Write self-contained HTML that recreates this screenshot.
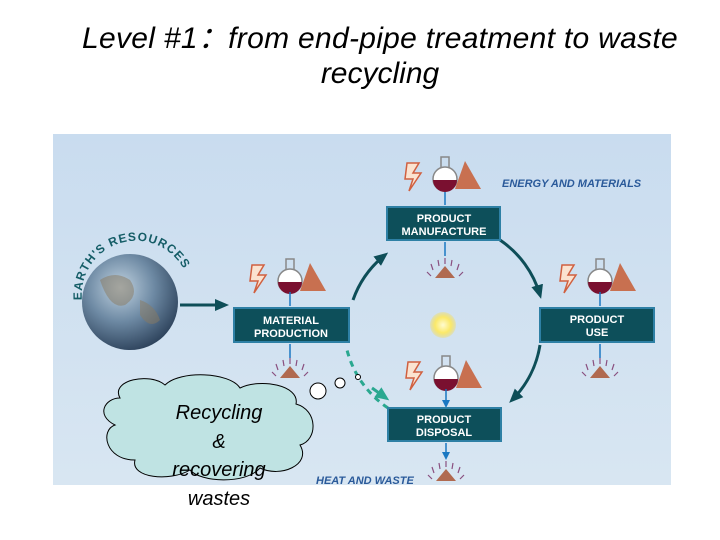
<!DOCTYPE html>
<html><head><style>
body{margin:0;width:720px;height:540px;background:#fff;overflow:hidden;font-family:"Liberation Sans",sans-serif}
.t{position:absolute;left:0;width:760px;text-align:center;font-style:italic;font-size:30px;color:#000;white-space:nowrap}
</style></head><body>
<div class="t" style="top:13px;letter-spacing:0.3px">Level #1：from end-pipe treatment to waste</div>
<div class="t" style="top:57px">recycling</div>
<svg width="720" height="540" style="position:absolute;left:0;top:0">
<defs>
<linearGradient id="bg" x1="0" y1="0" x2="0" y2="1"><stop offset="0" stop-color="#c9dcef"/><stop offset="1" stop-color="#d8e6f2"/></linearGradient>
<radialGradient id="gl" cx="0.4" cy="0.35" r="0.7"><stop offset="0" stop-color="#c0d2e0"/><stop offset="0.5" stop-color="#6e8aa4"/><stop offset="1" stop-color="#2a3f58"/></radialGradient>
<radialGradient id="sun"><stop offset="0" stop-color="#fffbd0"/><stop offset="0.6" stop-color="#fbe96a"/><stop offset="1" stop-color="#f5dc50" stop-opacity="0.3"/></radialGradient>
<marker id="ah" markerUnits="userSpaceOnUse" markerWidth="14" markerHeight="14" refX="10" refY="7" orient="auto"><path d="M0,1L14,7L0,13z" fill="#0e4e58"/></marker>
<marker id="ab" markerUnits="userSpaceOnUse" markerWidth="8" markerHeight="8" refX="6" refY="4" orient="auto"><path d="M0,0L8,4L0,8z" fill="#1a78c2"/></marker>
<marker id="ag" markerUnits="userSpaceOnUse" markerWidth="14" markerHeight="14" refX="10" refY="7" orient="auto"><path d="M0,1L14,7L0,13z" fill="#2aa890"/></marker>
<g id="ic">
<path d="M-38,-22 L-26,-22 L-32,-12 L-24,-12 L-36,6 L-32,-6 L-40,-6z" fill="#fbe3d0" stroke="#d06040" stroke-width="1.5"/>
<rect x="-4" y="-28" width="8" height="12" fill="none" stroke="#888" stroke-width="1.5"/>
<circle cx="0" cy="-6" r="12" fill="#fff" stroke="#888" stroke-width="1.5"/>
<path d="M-12,-5 A12,12 0 0 0 12,-5z" fill="#7a1030"/>
<path d="M20,-24 L36,4 L10,4z" fill="#c87050"/>
</g>
<g id="ht"><path d="M-10,6 L0,-6 L10,6z" fill="#b06a50"/><path d="M-12,-2 L-14,-8 M-6,-6 L-7,-12 M0,-8 L0,-14 M6,-6 L7,-12 M12,-2 L14,-8 M-14,4 L-18,0 M14,4 L18,0" stroke="#8a5080" stroke-width="1.2"/></g>
</defs>
<rect x="53" y="134" width="618" height="351" fill="url(#bg)"/>
<path d="M353,300 A100,100 0 0 1 385,255" fill="none" stroke="#0e4e58" stroke-width="3" marker-end="url(#ah)"/>
<path d="M500,240 A100,100 0 0 1 540,295" fill="none" stroke="#0e4e58" stroke-width="3" marker-end="url(#ah)"/>
<path d="M540,345 A100,100 0 0 1 512,400" fill="none" stroke="#0e4e58" stroke-width="3" marker-end="url(#ah)"/>
<path d="M388,408 A100,100 0 0 1 347,350" fill="none" stroke="#2aa890" stroke-width="3" stroke-dasharray="6,5"/>
<path d="M372,388 L386,398" stroke="#2aa890" stroke-width="3" marker-end="url(#ag)"/>
<circle cx="443" cy="325" r="13" fill="url(#sun)"/>
<circle cx="130" cy="302" r="48" fill="url(#gl)"/>
<path d="M100,280 q15,-10 30,0 q10,15 -5,25 q-15,5 -25,-25z M140,300 q15,5 20,20 q-10,10 -20,-5z" fill="#8a7a60" opacity="0.5"/>
<path d="M180,305 L225,305" stroke="#0e4e58" stroke-width="3" marker-end="url(#ah)"/>
<path id="arc" d="M82,300 A52,52 0 0 1 190,290" fill="none"/>
<text font-size="12" font-weight="bold" fill="#145c66" letter-spacing="1"><textPath href="#arc">EARTH'S RESOURCES</textPath></text>
<use href="#ic" x="445" y="185"/><use href="#ic" x="290" y="287"/><use href="#ic" x="600" y="287"/><use href="#ic" x="446" y="384"/>
<path d="M445,192 V205 M290,292 V306 M600,292 V306 M446,389 V406" stroke="#1a78c2" stroke-width="1.5" marker-end="url(#ab)"/>
<path d="M445,242 V256 M290,344 V358 M600,344 V358 M446,443 V458" stroke="#1a78c2" stroke-width="1.5" marker-end="url(#ab)"/>
<use href="#ht" x="445" y="272"/><use href="#ht" x="290" y="372"/><use href="#ht" x="600" y="372"/><use href="#ht" x="446" y="475"/>
<text x="502" y="187" font-size="11" font-style="italic" font-weight="bold" fill="#2a5a9a">ENERGY AND MATERIALS</text>
<text x="316" y="484" font-size="11" font-style="italic" font-weight="bold" fill="#2a5a9a">HEAT AND WASTE</text>
<g font-size="11" font-weight="bold" fill="#fff" text-anchor="middle">
<rect x="387" y="207" width="113" height="33" fill="#0d4f5a" stroke="#2e80a5" stroke-width="2"/>
<text x="444" y="222">PRODUCT</text><text x="444" y="235">MANUFACTURE</text>
<rect x="234" y="308" width="115" height="34" fill="#0d4f5a" stroke="#2e80a5" stroke-width="2"/>
<text x="291" y="324">MATERIAL</text><text x="291" y="337">PRODUCTION</text>
<rect x="540" y="308" width="114" height="34" fill="#0d4f5a" stroke="#2e80a5" stroke-width="2"/>
<text x="597" y="323">PRODUCT</text><text x="597" y="336">USE</text>
<rect x="388" y="408" width="113" height="33" fill="#0d4f5a" stroke="#2e80a5" stroke-width="2"/>
<text x="444" y="423">PRODUCT</text><text x="444" y="436">DISPOSAL</text>
</g>
<path d="M120,398 C110,380 150,372 165,385 C180,370 230,372 240,388 C260,378 300,385 296,404 C318,410 318,440 300,445 C312,465 280,478 260,468 C245,485 200,482 190,470 C170,482 130,478 135,460 C105,460 100,430 115,425 C95,415 105,398 120,398z" fill="#bfe3e3" stroke="#000" stroke-width="1"/>
<circle cx="318" cy="391" r="8" fill="#fff" stroke="#000"/>
<circle cx="340" cy="383" r="5" fill="#fff" stroke="#000"/>
<circle cx="358" cy="377" r="2.5" fill="#fff" stroke="#000"/>
<g font-size="20" font-style="italic" text-anchor="middle" fill="#000">
<text x="219" y="419">Recycling</text><text x="219" y="448">&amp;</text><text x="219" y="476">recovering</text><text x="219" y="505">wastes</text>
</g>
</svg>
</body></html>
